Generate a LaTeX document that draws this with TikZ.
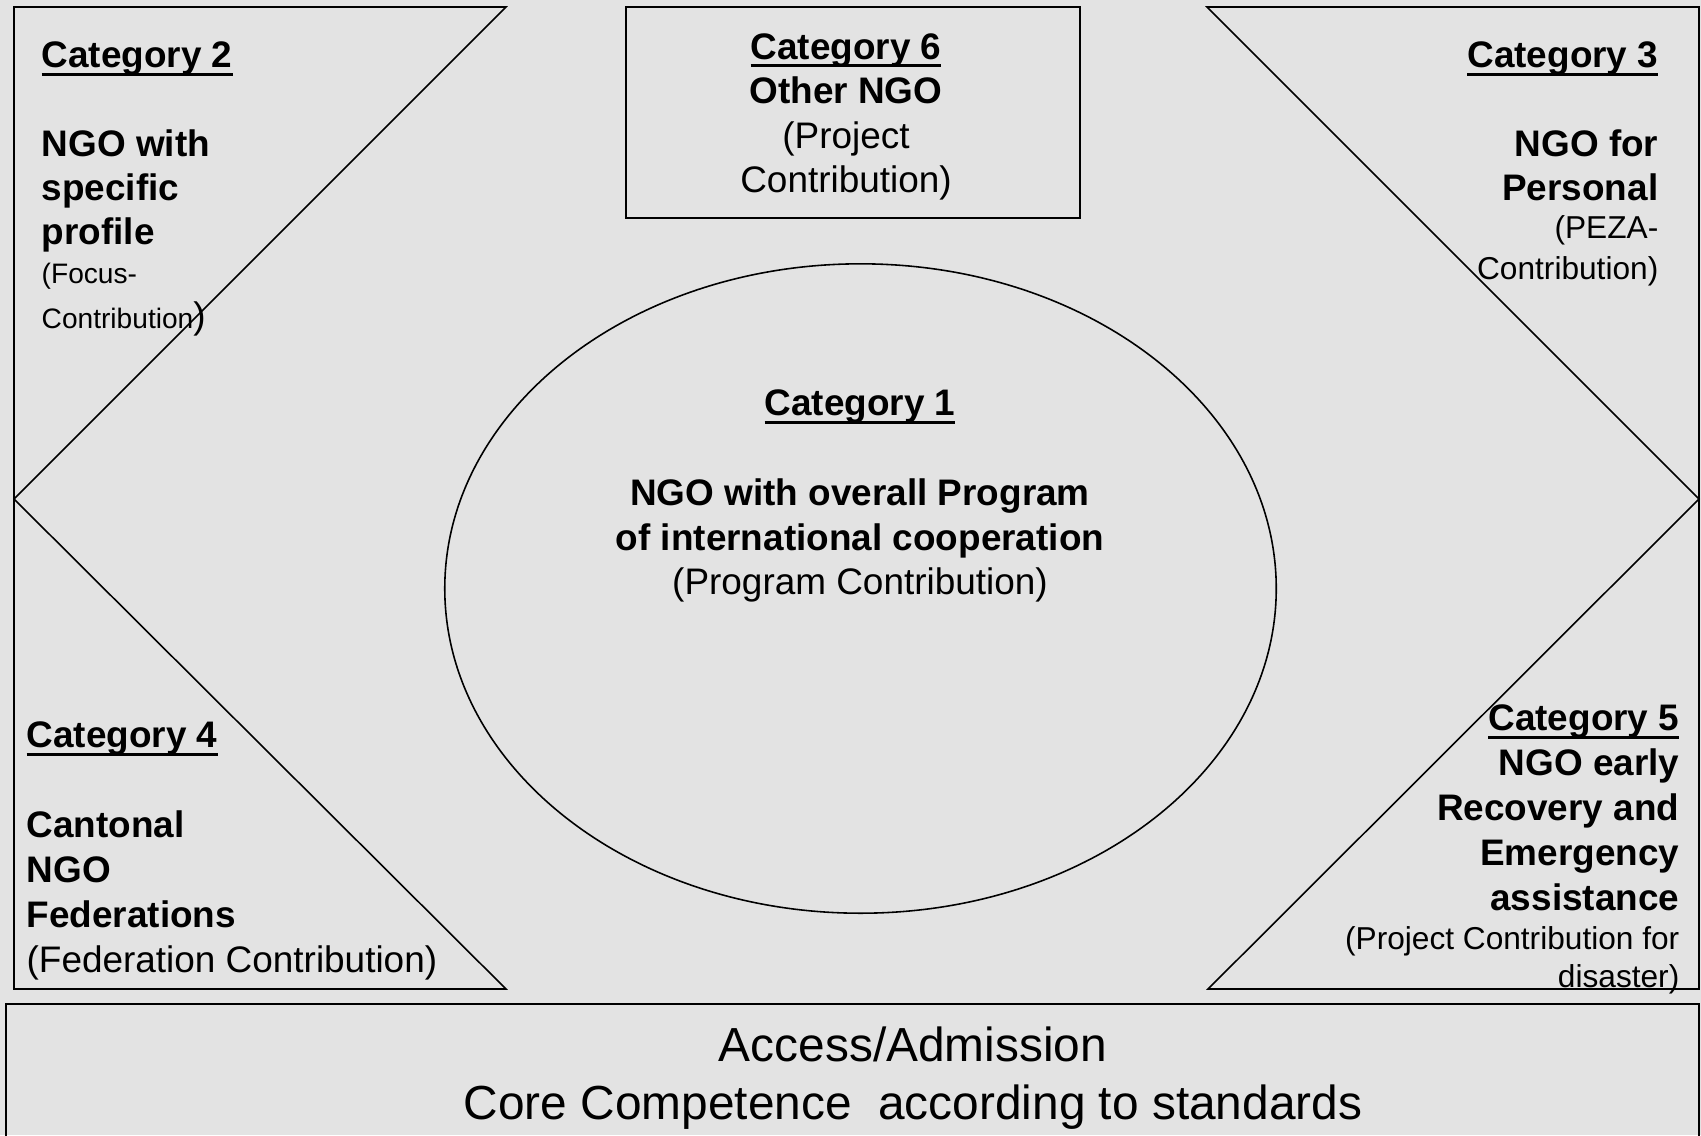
\documentclass[tikz,border=0pt]{standalone}
\usepackage{fontspec}
\setmainfont{Liberation Sans}
\usetikzlibrary{shapes.geometric}
\tikzset{>=latex}
\tikzstyle{frame}=[draw=black,line width=0.45pt]
\tikzstyle{catnode}=[inner sep=0pt,font=\fontsize{10.5}{12.8}\selectfont]
\newcommand{\catul}[1]{\setbox0=\hbox{#1}\rlap{\rule[-2.3pt]{\wd0}{0.75pt}}\box0}
\newcommand{\smtext}[2]{{\fontsize{#1}{#1}\selectfont #2}}

\begin{document}
\begin{tikzpicture}[x=0.01cm,y=-0.01cm]
\useasboundingbox (0,0) rectangle (1701,1135);
\fill[black!11] (0,0) rectangle (1701,1135);

\draw[frame] (14,7) -- (506,7) -- (14,499) -- (506,989) -- (14,989) -- cycle;
\draw[frame] (1699,7) -- (1207,7) -- (1699,499) -- (1208,989) -- (1699,989) -- cycle;
\draw[frame] (626,7) rectangle (1080,218);
\node[frame,ellipse,minimum width=8.31cm,minimum height=6.49cm] (core) at (860.5,588.5) {};
\draw[frame,line width=0.8pt] (6,1150) -- (6,1004) -- (1699,1004) -- (1699,1150);

\node[catnode,font=\fontsize{10.5}{12.6}\selectfont,anchor=north west,align=left] (cat2) at (41,41)
  {\textbf{\catul{Category 2}}\\ \\ \textbf{NGO with}\\ \textbf{specific}\\ \textbf{profile}\\[-1.5pt]
   \smtext{8}{(Focus-}\\ \smtext{8}{Contribution})};
\node[catnode,font=\fontsize{10.5}{12.6}\selectfont,anchor=north east,align=right] (cat3) at (1659,41)
  {\textbf{\catul{Category 3}}\\ \\ \textbf{NGO for}\\ \textbf{Personal}\\[-1.7pt]
   \smtext{9}{(PEZA-}\\[-1.1pt] \smtext{9}{Contribution)}};
\node[catnode,anchor=north west,align=left] (cat4) at (26,721)
  {\textbf{\catul{Category 4}}\\ \\ \textbf{Cantonal}\\ \textbf{NGO}\\ \textbf{Federations}\\ (Federation Contribution)};
\node[catnode,anchor=north east,align=right] (cat5) at (1680,704)
  {\textbf{\catul{Category 5}}\\ \textbf{NGO early}\\ \textbf{Recovery and}\\ \textbf{Emergency}\\ \textbf{assistance}\\[-1.6pt]
   \smtext{9}{(Project Contribution for}\\[-2.0pt] \smtext{9}{disaster)}};
\node[catnode,font=\fontsize{10.5}{12.7}\selectfont,anchor=north,align=center] (cat6) at (846,32.5)
  {\textbf{\catul{Category 6}}\\ \textbf{Other NGO}\\ (Project\\ Contribution)};
\node[catnode,font=\fontsize{10.5}{12.75}\selectfont,anchor=north,align=center] (cat1) at (860,389)
  {\textbf{\catul{Category 1}}\\ \\ \textbf{NGO with overall Program}\\ \textbf{of international cooperation}\\ (Program Contribution)};

\node[inner sep=0pt,font=\fontsize{13.6}{16.4}\selectfont,anchor=north,align=center] (access) at (913,1026)
  {Access/Admission\\ Core Competence\ \ according to standards};
\end{tikzpicture}
\end{document}
